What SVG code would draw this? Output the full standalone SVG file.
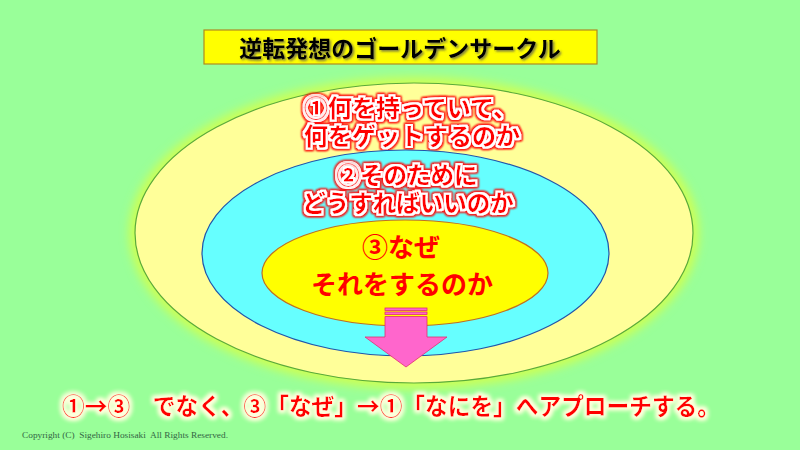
<svg xmlns="http://www.w3.org/2000/svg" width="800" height="450" viewBox="0 0 800 450">
<style>
.jp{font-family:"Noto Sans CJK JP","Noto Sans CJK SC",sans-serif;font-weight:bold}
.red{fill:#FF0000}
.glowtxt{filter:url(#redglow)}
</style>
<defs>
<filter id="redglow" x="-10%" y="-30%" width="120%" height="160%">
<feMorphology in="SourceAlpha" operator="dilate" radius="1.6" result="d1"/>
<feFlood flood-color="#FFFFFF"/><feComposite in2="d1" operator="in" result="white"/>
<feMorphology in="SourceAlpha" operator="dilate" radius="3.2" result="d2"/>
<feGaussianBlur in="d2" stdDeviation="1.3" result="b2"/>
<feFlood flood-color="#FF1010"/><feComposite in2="b2" operator="in" result="redg"/>
<feMerge><feMergeNode in="redg"/><feMergeNode in="redg"/><feMergeNode in="white"/><feMergeNode in="SourceGraphic"/></feMerge>
</filter>
<filter id="softglow" x="-5%" y="-40%" width="110%" height="180%">
<feMorphology in="SourceAlpha" operator="dilate" radius="2" result="d"/>
<feGaussianBlur in="d" stdDeviation="2" result="b"/>
<feFlood flood-color="#FFFFDD"/><feComposite in2="b" operator="in" result="g"/>
<feMerge><feMergeNode in="g"/><feMergeNode in="g"/><feMergeNode in="SourceGraphic"/></feMerge>
</filter>
<filter id="shadow" x="-5%" y="-30%" width="110%" height="160%">
<feDropShadow dx="1.5" dy="1.5" stdDeviation="0.8" flood-color="#555555" flood-opacity="0.8"/>
</filter>
<filter id="blur" x="-10%" y="-10%" width="120%" height="120%">
<feGaussianBlur stdDeviation="5"/>
</filter>
</defs>
<rect x="0" y="0" width="800" height="450" fill="#99FF99"/>

<g id="title">
<rect x="204" y="30" width="393" height="34" fill="#FFFF00" stroke="#B08A20" stroke-width="1.2"/>
<text x="400" y="57" text-anchor="middle" class="jp" font-size="23" fill="#000000" filter="url(#shadow)">逆転発想のゴールデンサークル</text>
</g>

<g id="outer">
<ellipse cx="414" cy="233" rx="285" ry="156" fill="#CCFF55" filter="url(#blur)"/>
<ellipse cx="414" cy="233" rx="279" ry="150" fill="#FFFF99" stroke="#5AAA3A" stroke-width="1.2"/>
<text class="jp red glowtxt" font-size="24"><tspan x="304" y="117">①何を持っていて、</tspan><tspan x="304" y="145">何をゲットするのか</tspan></text>
</g>

<g id="middle">
<ellipse cx="405.5" cy="253" rx="203.5" ry="103" fill="#66FFFF" stroke="#2255AA" stroke-width="1.2"/>
<text class="jp red glowtxt" font-size="23.5" text-anchor="middle"><tspan x="407" y="184">②そのために</tspan><tspan x="408" y="212">どうすればいいのか</tspan></text>
</g>

<g id="inner">
<ellipse cx="405" cy="273" rx="143" ry="53" fill="#FFFF00" stroke="#C07020" stroke-width="1.2"/>
<text class="jp red" font-size="26" text-anchor="middle"><tspan x="401" y="257">③なぜ</tspan><tspan x="402" y="294">それをするのか</tspan></text>
</g>

<g id="connectors">
<g fill="#FF66CC" stroke="#E03070" stroke-width="0.8">
<rect x="385" y="308" width="42" height="2.5"/>
<rect x="385" y="312" width="42" height="2.5"/>
<polygon points="385,316.5 427,316.5 427,337 447,337 406,367 365,337 385,337"/>
</g>
</g>

<g id="footer">
<text class="jp red" font-size="24" x="62" y="415" textLength="658" lengthAdjust="spacingAndGlyphs" filter="url(#softglow)">①→③　でなく、③「なぜ」→①「なにを」へアプローチする。</text>
<text x="22" y="438" font-family="Liberation Serif, serif" font-size="9" fill="#336644" textLength="206" lengthAdjust="spacingAndGlyphs" style="white-space:pre">Copyright (C)  Sigehiro Hosisaki  All Rights Reserved.</text>
</g>
</svg>
